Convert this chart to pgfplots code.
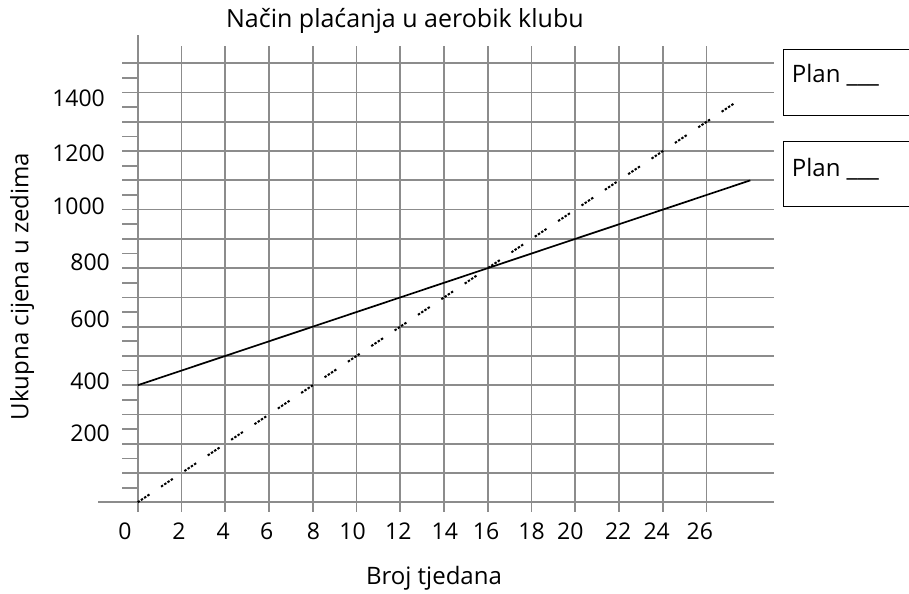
\documentclass[border=0pt]{standalone}
\usepackage{pgfplots}
\pgfplotsset{compat=1.18}
\usepackage{fontspec}
\setmainfont{Open Sans}

\newcommand{\lbl}{\fontsize{24bp}{28bp}\selectfont}
\newcommand{\ttl}{\fontsize{25bp}{29bp}\selectfont}
\newcommand{\num}{\fontsize{23bp}{27bp}\selectfont}
\newcommand{\pad}{\rule{5bp}{0pt}}
\definecolor{gridgray}{gray}{0.55}

\begin{document}
\begin{tikzpicture}
% page area
\useasboundingbox (0bp,0bp) rectangle (909bp,594bp);

\begin{axis}[
  anchor=origin, at={(137.7bp,91.7bp)},
  x=21.88bp, y=0.2927bp,
  xmin=-0.7, xmax=29.1, ymin=-32, ymax=1560,
  clip=false,
  axis line style={draw=none},
  grid=major,
  major grid style={line width=1.7bp, draw=gridgray},
  xtick={0,2,...,26}, xticklabels={},
  ytick={0,100,...,1500}, yticklabels={},
  minor ytick={50,150,...,1450},
  ytick pos=left, xtick pos=bottom,
  tick align=inside,
  major tick length=0pt,
  minor tick length=15.3bp,
  minor tick style={line width=1.7bp, draw=gridgray},
  tick label style={font=\num},
  extra x ticks={-0.58,1.89,3.91,5.89,8.03,9.82,11.91,14.04,15.92,18.0,19.77,21.96,23.72,25.69},
  extra x tick labels={0,2,4,6,8,10,12,14,16,18,20,22,24,26},
  extra x tick style={grid=none, major tick length=0pt,
    xticklabel style={anchor=north, yshift=-7.5bp}},
  extra y ticks={1380,1192,1010,818.6,625.6,414.4,235.6},
  extra y tick labels={{1400\pad},{1200\pad},{1000\pad},800,600,400,200},
  extra y tick style={grid=none, major tick length=0pt,
    yticklabel style={anchor=east, xshift=-9bp}},
]
  % axis lines running past the grid
  \draw[line width=1.7bp, gridgray] (axis cs:0,-32) -- (axis cs:0,1596);
  \draw[line width=1.7bp, gridgray] (axis cs:-1.8,0) -- (axis cs:29.1,0);

  % Plan with a fixed fee: 400 + 25 per week
  \addplot[black, line width=1.7bp] coordinates {(0,400) (28,1100)};
  % Plan paid per week only: 50 per week
  \addplot[black, line width=2bp,
    dash pattern=on 2.4bp off 1.5bp on 2.4bp off 1.5bp on 2.4bp off 1.5bp on 2.4bp off 14bp]
    coordinates {(0,0) (27.6,1380)};
\end{axis}

% titles
\node[anchor=base, font=\ttl] at (404.9bp,566bp) {Način plaćanja u aerobik klubu};
\node[anchor=base, font=\lbl] at (434bp,10bp) {Broj tjedana};
\node[anchor=base, rotate=90, font=\lbl] at (28.3bp,307.5bp) {Ukupna cijena u zedima};

% answer boxes
\draw[line width=1.3bp] (783.3bp,544.7bp) rectangle (930bp,478.3bp);
\draw[line width=1.3bp] (783.3bp,452.3bp) rectangle (930bp,387.3bp);
\node[anchor=base west, inner sep=0pt, font=\lbl] at (791.7bp,511.7bp) {Plan \_\_\_};
\node[anchor=base west, inner sep=0pt, font=\lbl] at (791.7bp,417.3bp) {Plan \_\_\_};
\end{tikzpicture}
\end{document}
